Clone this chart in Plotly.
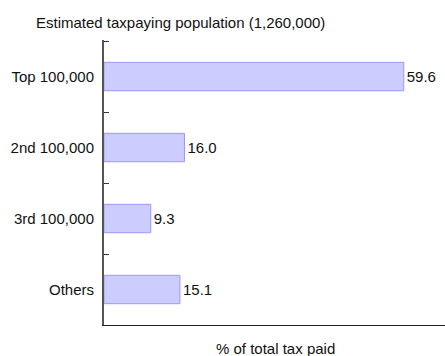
import plotly.graph_objects as go

categories = ["Top 100,000", "2nd 100,000", "3rd 100,000", "Others"]
values = [59.6, 16.0, 9.3, 15.1]
labels = ["59.6", "16.0", "9.3", "15.1"]

FONT = "Liberation Sans, Arial, Helvetica"

fig = go.Figure(go.Bar(
    y=categories, x=values, orientation="h",
    width=0.4,
    marker=dict(color="#ccccff", line=dict(color="#9999ff", width=1)),
    text=labels, textposition="outside",
    textfont=dict(family=FONT, size=15, color="#111"),
    cliponaxis=False,
))

fig.update_layout(
    width=445, height=356,
    margin=dict(l=104, r=0, t=40, b=31),
    plot_bgcolor="white", paper_bgcolor="white",
    font=dict(family=FONT, size=15, color="#111"),
    showlegend=False,
    xaxis=dict(range=[0, 67.8], showgrid=False, zeroline=False, showticklabels=False,
               ticks="", showline=True, linecolor="#222", linewidth=1, fixedrange=True),
    yaxis=dict(categoryorder="array", categoryarray=categories[::-1],
               range=[-0.5, 3.515],
               showgrid=False, zeroline=False, showline=True, linecolor="#555", linewidth=2,
               ticks="inside", ticklen=5, tickcolor="#333", tickson="boundaries",
               ticklabelstandoff=5, fixedrange=True),
    annotations=[
        dict(text="Estimated taxpaying population (1,260,000)", xref="paper", yref="paper",
             x=(34-104)/341, y=1 + (40-22)/285, xanchor="left", yanchor="middle",
             showarrow=False, font=dict(size=15)),
        dict(text="% of total tax paid", xref="paper", yref="paper",
             x=(275-104)/341, y=-(348-325)/285, xanchor="center", yanchor="middle",
             showarrow=False, font=dict(size=15)),
    ],
)

fig.write_html("out.html", config={"displayModeBar": False},
               post_script="document.body.style.margin='0';")
